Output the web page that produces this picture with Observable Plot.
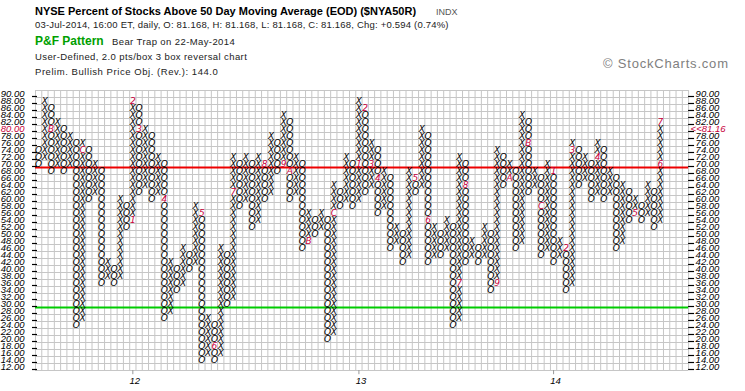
<!DOCTYPE html>
<html><head><meta charset="utf-8">
<script src="https://cdn.jsdelivr.net/npm/d3@7"></script>
<script src="https://cdn.jsdelivr.net/npm/@observablehq/plot@0.6"></script>
<style>
body{margin:0;background:#fff;}
#wrap{position:relative;width:745px;height:391px;overflow:hidden;font-family:"Liberation Sans",Arial,sans-serif;}
#chart{position:absolute;left:0;top:0;}
.t{position:absolute;white-space:nowrap;line-height:1;}
</style></head><body>
<div id="wrap">
<div id="chart"></div>
<div class="t" style="left:35px;top:6px;font-weight:bold;font-size:11px;color:#000">NYSE Percent of Stocks Above 50 Day Moving Average (EOD) ($NYA50R)<span style="font-weight:normal;font-size:9px;color:#555;margin-left:20px">INDX</span></div>
<div class="t" style="left:35px;top:20px;font-size:9.5px;color:#222;letter-spacing:0.2px">03-Jul-2014, 16:00 ET, daily, O: 81.168, H: 81.168, L: 81.168, C: 81.168, Chg: +0.594 (0.74%)</div>
<div class="t" style="left:35px;top:35px;font-size:12px;font-weight:bold;color:#00a000">P&amp;F Pattern <span style="font-weight:normal;font-size:9.5px;color:#222;margin-left:5px;letter-spacing:0.4px">Bear Trap on 22-May-2014</span></div>
<div class="t" style="left:35px;top:52px;font-size:9.5px;color:#222;letter-spacing:0.4px">User-Defined, 2.0 pts/box 3 box reversal chart</div>
<div class="t" style="left:35px;top:67px;font-size:9.5px;color:#222;letter-spacing:0.55px">Prelim. Bullish Price Obj. (Rev.): 144.0</div>
<div class="t" style="left:603px;top:57px;font-size:13px;color:#808080;letter-spacing:0.8px">© StockCharts.com</div>
</div>
<script>
// P&F columns: type, lowest box, highest box (2 pts per box)
const colType = ["O","X","O","X","O","X","O","X","O","X",
                 "O","X","O","X","O","X","O","X","O","X",
                 "O","X","O","X","O","X","O","X","O","X",
                 "O","X","O","X","O","X","O","X","O","X",
                 "O","X","O","X","O","X","O","X","O","X",
                 "O","X","O","X","O","X","O","X","O","X",
                 "O","X","O","X","O","X","O","X","O","X",
                 "O","X","O","X","O","X","O","X","O","X",
                 "O","X","O","X","O","X","O","X","O","X",
                 "O","X","O","X","O","X","O","X","O","X"];
const colLow  = [70,72,68,70,68,70,24,26,60,62, 36,38,36,38,52,54,62,64,60,62,
                 26,28,34,36,40,42,14,16,14,16, 30,32,58,60,52,54,60,62,68,70,
                 60,62,46,48,50,52,20,22,58,60, 58,60,62,64,56,58,46,48,42,44,
                 62,64,42,44,44,46,24,26,42,44, 42,44,34,36,64,66,46,48,62,64,
                 44,46,42,44,34,36,64,66,60,62, 60,62,46,48,54,56,54,56,52,54];
const colHigh = [74,88,86,82,80,78,76,76,74,70, 68,42,40,60,58,88,86,80,78,72,
                 70,42,40,46,44,58,56,26,24,46, 44,72,70,72,70,72,70,78,76,84,
                 82,72,70,56,54,56,54,64,62,72, 70,88,86,76,74,68,66,52,50,68,
                 66,80,78,52,50,54,52,72,70,48, 46,52,50,74,72,70,68,84,82,68,
                 66,70,68,48,46,76,74,72,70,76, 74,68,66,64,62,60,58,64,62,82];
// month markers (1-9, A=Oct, B=Nov, C=Dec): column, box, label
const monthCol  = [2, 7, 15, 15, 16, 20, 26, 28, 31, 36, 39, 40, 43, 47, 51, 52, 53, 54, 60, 62, 67, 68, 73, 75, 78, 80, 82, 84, 85, 89, 95, 99, 99];
const monthBox  = [80, 74, 54, 88, 80, 60, 56, 18, 62, 70, 70, 68, 48, 56, 70, 86, 70, 66, 66, 54, 36, 64, 36, 66, 76, 58, 68, 46, 74, 72, 56, 70, 82];
const monthText = ["B","C","1","2","3","4","5","6","7","8","9","A","B","C","1","2","3","4","5","6","7","8","9","A","B","C","1","2","3","4","5","6","7"];
// axes
const priceTicks = [90,88,86,84,82,80,78,76,74,72,70,68,66,64,62,60,58,56,54,52,50,48,46,44,42,40,38,36,34,32,30,28,26,24,22,20,18,16,14,12];
const yearText = ["12", "13", "14"];
const yearCol = [15, 51, 82];
const lastValue = 81.16;
const lastBox = 80;
const upperLine = 69, lowerLine = 29;
const nCells = 104;

const cells = [];
colType.forEach((t, k) => {
  for (let v = colLow[k]; v <= colHigh[k]; v += 2) {
    const mi = monthCol.findIndex((c, j) => c === k && monthBox[j] === v);
    cells.push({k, v, t: mi >= 0 ? monthText[mi] : t, m: mi >= 0});
  }
});

const red = "#c8003c";
const glyph = {fontFamily: "DejaVu Sans", fontStyle: "italic", fontSize: 9};
const lab = {fontFamily: "Liberation Sans", fontStyle: "italic", fontSize: 9.5};
const chart = Plot.plot({
  width: 745, height: 391,
  marginLeft: 35, marginRight: 57, marginTop: 90, marginBottom: 21,
  x: {type: "linear", domain: [-0.5, nCells - 0.5], range: [35, 688.1], axis: null},
  y: {type: "linear", domain: [11, 91], range: [370, 90], axis: null},
  style: {background: "#fff", overflow: "visible"},
  marks: [
    Plot.ruleX(d3.range(-0.5, nCells, 1), {y1: 11, y2: 91, stroke: "#c6c6c6", strokeWidth: 1}),
    Plot.ruleY(d3.range(11, 92, 2), {x1: -0.5, x2: nCells - 0.5, stroke: "#c6c6c6", strokeWidth: 1}),
    Plot.ruleY([upperLine], {x1: -0.5, x2: nCells - 0.5, stroke: "#ee0000", strokeWidth: 2}),
    Plot.ruleY([lowerLine], {x1: -0.5, x2: nCells - 0.5, stroke: "#00cc00", strokeWidth: 2}),
    Plot.text(cells.filter(d => !d.m), {x: "k", y: "v", text: "t", fill: "#000", ...glyph}),
    Plot.text(cells.filter(d => d.m), {x: "k", y: "v", text: "t", fill: red, ...glyph}),
    // price axis ticks and labels (left and right)
    Plot.ruleY(priceTicks, {y: d => d, x1: -0.98, x2: -0.18, dy: 2.5, stroke: "#000", strokeWidth: 1.2}),
    Plot.ruleY(priceTicks, {y: d => d, x1: nCells - 0.5, x2: nCells + 0.45, dy: 2.5, stroke: "#000", strokeWidth: 1.2}),
    Plot.text(priceTicks, {x: -0.5, y: d => d, text: d => d.toFixed(2), textAnchor: "end", dx: -11,
      fill: d => d === lastBox ? red : "#000", ...lab}),
    Plot.text(priceTicks.filter(d => d !== lastBox), {x: nCells - 0.5, y: d => d, text: d => d.toFixed(2),
      textAnchor: "start", dx: 7, fill: "#000", ...lab}),
    Plot.text([lastBox], {x: nCells - 0.5, y: d => d, text: () => "<<" + lastValue.toFixed(2),
      textAnchor: "start", dx: 2, fill: red, ...lab}),
    // year axis
    Plot.ruleX(yearCol, {x: d => d, y1: 11, y2: 9.8, stroke: "#999"}),
    Plot.text(yearText, {x: (d, i) => yearCol[i], y: 11, dy: 10, dx: 2, text: d => d, ...lab, fill: "#000"})
  ]
});
document.getElementById("chart").appendChild(chart);
</script>
</body></html>
